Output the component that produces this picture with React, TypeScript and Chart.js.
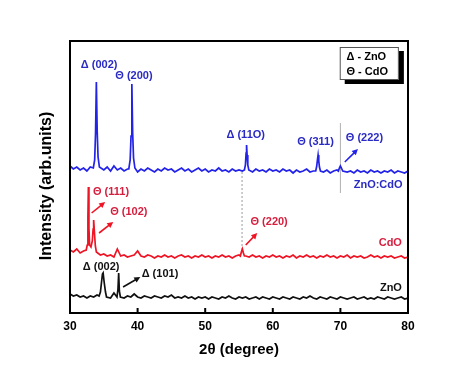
import React, { useEffect, useRef } from "react";
import { Chart, registerables } from "chart.js";

Chart.register(...registerables);

// 2θ sampling grid of the background (degrees)
const twoTheta = [
  30, 30.5, 31, 31.5, 32, 32.5, 33, 33.5, 34, 34.5, 35, 35.5, 36, 36.5, 37, 37.5, 38, 38.5, 39, 39.5,
  40, 40.5, 41, 41.5, 42, 42.5, 43, 43.5, 44, 44.5, 45, 45.5, 46, 46.5, 47, 47.5, 48, 48.5, 49, 49.5,
  50, 50.5, 51, 51.5, 52, 52.5, 53, 53.5, 54, 54.5, 55, 55.5, 56, 56.5, 57, 57.5, 58, 58.5, 59, 59.5,
  60, 60.5, 61, 61.5, 62, 62.5, 63, 63.5, 64, 64.5, 65, 65.5, 66, 66.5, 67, 67.5, 68, 68.5, 69, 69.5,
  70, 70.5, 71, 71.5, 72, 72.5, 73, 73.5, 74, 74.5, 75, 75.5, 76, 76.5, 77, 77.5, 78, 78.5, 79, 79.5, 80,
];

// Background intensities (a.u., offset-stacked)
const znoCdoBase = [
  147, 144, 146, 143, 145, 142, 146, 144, 150, 145, 143, 146, 142, 147, 143, 145, 142, 144, 150, 144,
  141, 144, 142, 145, 143, 141, 144, 142, 145, 143, 144, 141, 143, 145, 142, 144, 141, 143, 145, 142,
  144, 141, 143, 142, 145, 142, 143, 141, 144, 142, 143, 142, 150, 143, 141, 144, 142, 143, 141, 144,
  142, 143, 141, 144, 142, 143, 140, 143, 141, 142, 144, 141, 142, 145, 144, 141, 143, 140, 142, 143,
  146, 143, 141, 142, 140, 143, 141, 142, 140, 143, 141, 142, 140, 142, 141, 143, 140, 142, 141, 140, 142,
];
const cdoBase = [
  63, 61, 64, 60, 62, 65, 70, 70, 60, 58, 59, 57, 58, 56, 64, 57, 58, 56, 57, 58,
  62, 57, 56, 58, 57, 55, 57, 56, 58, 56, 57, 55, 57, 58, 56, 57, 55, 57, 56, 58,
  56, 57, 55, 57, 56, 58, 56, 57, 55, 57, 58, 64, 57, 56, 58, 56, 57, 55, 57, 56,
  58, 56, 57, 55, 57, 56, 58, 55, 57, 56, 58, 56, 57, 55, 57, 56, 58, 56, 57, 55,
  57, 56, 58, 55, 57, 56, 57, 55, 56, 58, 56, 57, 55, 57, 56, 57, 55, 56, 57, 55, 56,
];
const znoBase = [
  19, 17, 18, 16, 17, 15, 17, 16, 18, 20, 20, 17, 15, 20, 20, 16, 15, 17, 16, 19,
  16, 15, 17, 16, 15, 17, 16, 15, 17, 16, 18, 15, 16, 15, 17, 15, 16, 14, 16, 15,
  16, 14, 16, 15, 14, 16, 15, 17, 15, 14, 16, 15, 16, 14, 15, 16, 14, 16, 15, 14,
  16, 15, 14, 16, 15, 14, 16, 15, 14, 16, 15, 17, 15, 14, 16, 15, 14, 16, 15, 14,
  16, 15, 14, 15, 16, 14, 15, 16, 14, 15, 14, 16, 15, 14, 16, 15, 14, 15, 16, 14, 15,
];

// Diffraction peaks (2θ, intensity)
const znoCdoPeakX = [
  33.45, 33.65, 33.78, 33.9, 34.02, 34.15, 34.35,
  38.7, 38.9, 39.03, 39.15, 39.27, 39.4, 39.6,
  55.8, 55.95, 56.05, 56.12, 56.2, 56.3, 56.45,
  66.35, 66.5, 66.6, 66.7, 66.8, 66.9, 67.05,
  69.7, 69.85, 70.0, 70.15, 70.35,
];
const znoCdoPeakY = [
  145, 153, 180, 231, 182, 156, 146,
  144, 153, 177, 229, 180, 155, 145,
  143, 148, 160, 168, 158, 148, 143,
  142, 147, 153, 158, 152, 146, 142,
  142, 145, 147, 145, 142,
];
const cdoPeakX = [
  32.4, 32.55, 32.65, 32.72, 32.8, 32.9, 33.1, 33.3, 33.42, 33.5, 33.6, 33.75, 33.9,
  55.2, 55.35, 55.5, 55.65, 55.8,
];
const cdoPeakY = [
  63, 68, 95, 126, 85, 68, 66, 72, 84, 93, 82, 67, 61,
  57, 61, 64, 60, 57,
];
const znoPeakX = [34.3, 34.5, 34.65, 34.8, 34.9, 35.05, 35.25, 35.4, 36.95, 37.1, 37.2, 37.3, 37.45];
const znoPeakY = [17, 21, 30, 39, 40, 31, 21, 16, 16, 24, 40, 22, 16];

const seriesNames = ["ZnO", "CdO", "ZnO:CdO"];
const xTickValues = [30, 40, 50, 60, 70, 80];

const FONT = "'Liberation Sans', Arial, Helvetica, sans-serif";
const BLUE_LINE = "#2222E8";
const BLUE_TEXT = "#2A2AC4";
const RED_LINE = "#EE1424";
const RED_TEXT = "#D61E3E";
const BLACK = "#111111";

function mergePattern(base: number[], px: number[], py: number[]) {
  const pts: { x: number; y: number }[] = [];
  twoTheta.forEach((x, i) => {
    if (!px.some((p) => Math.abs(p - x) < 0.16)) pts.push({ x, y: base[i] });
  });
  px.forEach((x, i) => pts.push({ x, y: py[i] }));
  pts.sort((a, b) => a.x - b.x);
  return pts;
}

type Label = { t: string; x: number; y: number; c: string; a?: CanvasTextAlign };
const labels: Label[] = [
  { t: "Δ (002)", x: 31.6, y: 248, c: BLUE_TEXT },
  { t: "Θ (200)", x: 36.7, y: 237, c: BLUE_TEXT },
  { t: "Δ (11O)", x: 53.15, y: 178, c: BLUE_TEXT },
  { t: "Θ (311)", x: 63.6, y: 171, c: BLUE_TEXT },
  { t: "Θ (222)", x: 70.8, y: 175, c: BLUE_TEXT },
  { t: "ZnO:CdO", x: 79.2, y: 128, c: BLUE_TEXT, a: "right" },
  { t: "Θ (111)", x: 33.4, y: 121, c: RED_TEXT },
  { t: "Θ (102)", x: 35.95, y: 101, c: RED_TEXT },
  { t: "Θ (220)", x: 56.7, y: 91, c: RED_TEXT },
  { t: "CdO", x: 79.1, y: 70, c: RED_TEXT, a: "right" },
  { t: "Δ (002)", x: 31.9, y: 46, c: BLACK },
  { t: "Δ (101)", x: 40.6, y: 39, c: BLACK },
  { t: "ZnO", x: 79.1, y: 25, c: BLACK, a: "right" },
];
const arrows = [
  { x1: 70.65, y1: 151, x2: 72.6, y2: 164, c: BLUE_LINE },
  { x1: 33.2, y1: 100, x2: 35.2, y2: 111, c: RED_LINE },
  { x1: 34.3, y1: 80, x2: 36.4, y2: 91, c: RED_LINE },
  { x1: 56.0, y1: 68, x2: 57.7, y2: 80, c: RED_LINE },
  { x1: 37.85, y1: 26, x2: 40.4, y2: 36, c: BLACK },
];

const overlay = {
  id: "overlay",
  beforeDatasetsDraw(chart: any) {
    const { ctx, scales } = chart;
    const xs = scales.x, ys = scales.y;
    ctx.save();
    ctx.strokeStyle = "#9a9a9a";
    ctx.lineWidth = 1;
    ctx.setLineDash([2, 2]);
    ctx.beginPath();
    ctx.moveTo(xs.getPixelForValue(55.45), ys.getPixelForValue(63));
    ctx.lineTo(xs.getPixelForValue(55.45), ys.getPixelForValue(143));
    ctx.stroke();
    ctx.setLineDash([]);
    ctx.strokeStyle = "#b0b0b0";
    ctx.beginPath();
    ctx.moveTo(xs.getPixelForValue(70.0), ys.getPixelForValue(120));
    ctx.lineTo(xs.getPixelForValue(70.0), ys.getPixelForValue(190));
    ctx.stroke();
    ctx.restore();
  },
  afterDatasetsDraw(chart: any) {
    const { ctx, chartArea: ca, scales } = chart;
    const xs = scales.x, ys = scales.y;
    const X = (v: number) => xs.getPixelForValue(v);
    const Y = (v: number) => ys.getPixelForValue(v);
    ctx.save();
    // frame
    ctx.strokeStyle = "#000";
    ctx.lineWidth = 2;
    ctx.strokeRect(ca.left, ca.top, ca.right - ca.left, ca.bottom - ca.top);
    // inward ticks
    xTickValues.forEach((v) => {
      ctx.beginPath();
      ctx.moveTo(X(v), ca.bottom);
      ctx.lineTo(X(v), ca.bottom - 5);
      ctx.stroke();
    });
    // labels
    ctx.font = `bold 11px ${FONT}`;
    ctx.textBaseline = "middle";
    labels.forEach((l) => {
      ctx.fillStyle = l.c;
      ctx.textAlign = l.a || "left";
      ctx.fillText(l.t, X(l.x), Y(l.y));
    });
    // arrows
    arrows.forEach((a) => {
      const x1 = X(a.x1), y1 = Y(a.y1), x2 = X(a.x2), y2 = Y(a.y2);
      const ang = Math.atan2(y2 - y1, x2 - x1);
      ctx.strokeStyle = a.c;
      ctx.fillStyle = a.c;
      ctx.lineWidth = 1.6;
      ctx.beginPath();
      ctx.moveTo(x1, y1);
      ctx.lineTo(x2 - 4 * Math.cos(ang), y2 - 4 * Math.sin(ang));
      ctx.stroke();
      ctx.beginPath();
      ctx.moveTo(x2, y2);
      ctx.lineTo(x2 - 6 * Math.cos(ang) + 3 * Math.sin(ang), y2 - 6 * Math.sin(ang) - 3 * Math.cos(ang));
      ctx.lineTo(x2 - 6 * Math.cos(ang) - 3 * Math.sin(ang), y2 - 6 * Math.sin(ang) + 3 * Math.cos(ang));
      ctx.closePath();
      ctx.fill();
    });
    // legend box with shadow
    const bx1 = X(69.9), bx2 = X(78.65), by1 = Y(266), by2 = Y(233);
    ctx.fillStyle = "#000";
    ctx.fillRect(bx1 + 5, by1 + 4, bx2 - bx1, by2 - by1);
    ctx.fillStyle = "#fff";
    ctx.fillRect(bx1, by1, bx2 - bx1, by2 - by1);
    ctx.strokeStyle = "#555";
    ctx.lineWidth = 1;
    ctx.strokeRect(bx1 + 0.5, by1 + 0.5, bx2 - bx1 - 1, by2 - by1 - 1);
    ctx.fillStyle = "#000";
    ctx.textAlign = "left";
    ctx.font = `bold 11px ${FONT}`;
    ctx.fillText("Δ - ZnO", X(70.9), Y(256));
    ctx.fillText("Θ - CdO", X(70.9), Y(241));
    // y-axis title
    ctx.save();
    ctx.translate(ca.left - 23.5, Y(127));
    ctx.rotate(-Math.PI / 2);
    ctx.textAlign = "center";
    ctx.textBaseline = "middle";
    ctx.font = `bold 16px ${FONT}`;
    ctx.fillStyle = "#000";
    ctx.fillText("Intensity (arb.units)", 0, 0);
    ctx.restore();
    ctx.restore();
  },
};

export default function App() {
  const ref = useRef<HTMLCanvasElement>(null);
  useEffect(() => {
    const chart = new Chart(ref.current!, {
      type: "line",
      data: {
        datasets: [
          {
            label: seriesNames[0],
            data: mergePattern(znoBase, znoPeakX, znoPeakY),
            borderColor: BLACK,
          },
          {
            label: seriesNames[1],
            data: mergePattern(cdoBase, cdoPeakX, cdoPeakY),
            borderColor: RED_LINE,
          },
          {
            label: seriesNames[2],
            data: mergePattern(znoCdoBase, znoCdoPeakX, znoCdoPeakY),
            borderColor: BLUE_LINE,
          },
        ] as any,
      },
      options: {
        animation: false,
        responsive: true,
        maintainAspectRatio: false,
        elements: {
          point: { radius: 0 },
          line: { borderWidth: 1.7, tension: 0 },
        },
        layout: { padding: { left: 70, right: 66, top: 41, bottom: 0 } },
        plugins: {
          legend: { display: false },
          tooltip: { enabled: false },
        },
        scales: {
          x: {
            type: "linear",
            min: 30,
            max: 80,
            grid: { display: false, drawTicks: false },
            border: { display: false },
            ticks: {
              stepSize: 10,
              padding: 6,
              color: "#000",
              font: { family: FONT, size: 12, weight: "bold" },
            },
            title: {
              display: true,
              text: "2θ (degree)",
              color: "#000",
              font: { family: FONT, size: 15, weight: "bold" },
              padding: { top: 0, bottom: 7 },
            },
            afterFit: (s: any) => {
              s.height = 53;
            },
          },
          y: {
            type: "linear",
            display: false,
            min: 0,
            max: 272,
          },
        },
      } as any,
      plugins: [overlay],
    });
    return () => chart.destroy();
  }, []);
  return (
    <div style={{ position: "fixed", left: 0, top: 0, width: 474, height: 366, background: "#fff" }}>
      <canvas ref={ref} />
    </div>
  );
}
